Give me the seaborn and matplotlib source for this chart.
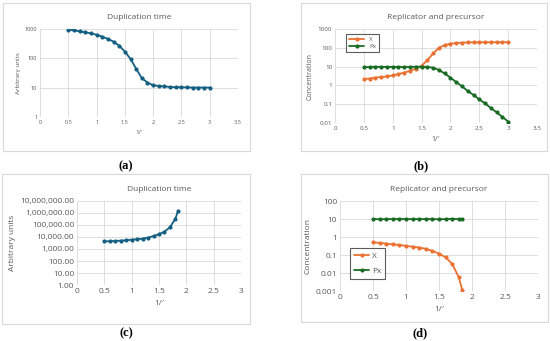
import numpy as np
import pandas as pd
import seaborn as sns
import matplotlib.pyplot as plt
from matplotlib.patches import Rectangle
from matplotlib.ticker import FixedLocator, FuncFormatter, NullLocator

# panel (a): duplication time
xa = [0.5, 0.6, 0.7, 0.8, 0.9, 1.0, 1.1, 1.2, 1.3, 1.4, 1.5, 1.6, 1.7,
      1.8, 1.9, 2.0, 2.1, 2.2, 2.3, 2.4, 2.5, 2.6, 2.7, 2.8, 2.9, 3.0]
ya = [950, 900, 830, 770, 710, 640, 550, 460, 370, 270, 170, 95, 44,
      21, 15, 12, 11.5, 11, 10.6, 10.4, 10.3, 10.2, 10.1, 10.1, 10.1, 10.1]

# panel (b): replicator and precursor
xb = xa
xb_X = [2.2, 2.3, 2.6, 2.8, 3.0, 3.4, 4.0, 4.8, 6.0, 7.7, 11, 22, 50,
        100, 140, 165, 180, 188, 192, 195, 196, 197, 197, 198, 198, 199]
xb_Px = [9.1, 9.6, 9.7, 9.7, 9.6, 9.7, 9.5, 9.6, 9.7, 9.8, 9.8, 9.6, 8.8,
         6.6, 4.3, 2.6, 1.5, 0.9, 0.5, 0.31, 0.18, 0.11, 0.063, 0.037, 0.021, 0.012]

# panel (c): duplication time
xc = [0.5, 0.6, 0.7, 0.8, 0.9, 1.0, 1.1, 1.2, 1.3, 1.4, 1.5, 1.6, 1.7, 1.8, 1.85]
yc = [4400, 4400, 4700, 5000, 5300, 6000, 6400, 7300, 8900, 12000,
      17000, 28000, 64000, 340000, 1550000]

# panel (d): replicator and precursor
xd = xc
xd_X = [0.5, 0.47, 0.43, 0.39, 0.36, 0.32, 0.29, 0.26, 0.22, 0.17,
        0.12, 0.074, 0.032, 0.0057, 0.0012]
xd_Px = [10.2, 9.6, 9.9, 9.9, 10.1, 9.9, 9.9, 9.9, 9.9, 9.9,
         9.7, 9.9, 10.1, 9.9, 9.9]

BLUE = "#156082"
ORANGE = "#E97132"
GREEN = "#196B24"
GRAY = "#595959"
GRID = "#D9D9D9"

sns.set_theme(style="white")
plt.rcParams["font.family"] = ["Open Sans", "DejaVu Sans"]

W, H = 550, 341
fig = plt.figure(figsize=(5.5, 3.41), dpi=100)


def box(x0, y0, x1, y1):
    fig.patches.append(Rectangle((x0 / W, 1 - y1 / H), (x1 - x0) / W, (y1 - y0) / H,
                                 transform=fig.transFigure, fill=False,
                                 edgecolor="#D9D9D9", linewidth=0.8))


def axes(x0, y0, x1, y1):
    return fig.add_axes([x0 / W, 1 - y1 / H, (x1 - x0) / W, (y1 - y0) / H])


def style(ax, title, ylabel, xmax, ylim, decades, tsize, lsize, fmt=None):
    ax.set_yscale("log")
    ax.set_xlim(0, xmax)
    ax.set_ylim(*ylim)
    ax.set_xticks(np.arange(0, xmax + 0.01, 0.5))
    ax.set_xticklabels([f"{v:g}" for v in np.arange(0, xmax + 0.01, 0.5)])
    ax.yaxis.set_major_locator(FixedLocator(decades))
    ax.yaxis.set_minor_locator(NullLocator())
    if fmt is None:
        ax.yaxis.set_major_formatter(FuncFormatter(lambda v, p: f"{v:g}"))
    else:
        ax.yaxis.set_major_formatter(FuncFormatter(fmt))
    ax.grid(True, color=GRID, linewidth=0.6)
    for s in ax.spines.values():
        s.set_visible(False)
    ax.tick_params(length=0, labelsize=tsize, colors=GRAY, pad=2)
    ax.set_title(title, fontsize=6, color=GRAY, pad=7)
    ax.set_xlabel("1/\u2032", fontsize=lsize, color=GRAY, labelpad=4)
    ax.set_ylabel(ylabel, fontsize=lsize, color=GRAY, labelpad=3)


mk = dict(marker="o", markersize=3, markeredgewidth=0, linewidth=1.3)

# (a)
box(3, 3, 250, 151)
ax = axes(40, 29, 238, 117)
sns.lineplot(x=xa, y=ya, ax=ax, color=BLUE, **mk)
style(ax, "Duplication time", "Arbitrary units", 3.5, (1, 1000),
      [1, 10, 100, 1000], 4, 4.5)

# (b)
box(301, 3, 547, 151)
ax = axes(335, 29, 537, 123)
dfb = pd.DataFrame({"x": xb * 2, "y": xb_X + xb_Px,
                    "s": ["X"] * len(xb) + ["Px"] * len(xb)})
sns.lineplot(data=dfb, x="x", y="y", hue="s", ax=ax,
             palette=[ORANGE, GREEN], **mk)
style(ax, "Replicator and precursor", "Concentration", 3.5, (0.01, 1000),
      [0.01, 0.1, 1, 10, 100, 1000], 4.5, 5)
leg = ax.legend(title=None, loc="upper left", bbox_to_anchor=(0.04, 0.98),
                fontsize=4.5, frameon=True, fancybox=False, handlelength=2.5,
                borderpad=0.4, labelspacing=0.3)
leg.get_frame().set_edgecolor("#333333")
leg.get_frame().set_linewidth(0.8)
for t in leg.get_texts():
    t.set_color(GRAY)

# (c)
box(2, 174, 250, 324)
ax = axes(77, 201, 241, 285)
sns.lineplot(x=xc, y=yc, ax=ax, color=BLUE, **mk)
style(ax, "Duplication time", "Arbitrary units", 3, (1, 1e7),
      [10.0 ** k for k in range(8)], 6, 6, fmt=lambda v, p: f"{v:,.2f}")

# (d)
box(301, 174, 548, 322)
ax = axes(340, 201, 538, 291)
dfd = pd.DataFrame({"x": xd * 2, "y": xd_X + xd_Px,
                    "s": ["X"] * len(xd) + ["Px"] * len(xd)})
sns.lineplot(data=dfd, x="x", y="y", hue="s", ax=ax,
             palette=[ORANGE, GREEN], **mk)
style(ax, "Replicator and precursor", "Concentration", 3, (0.001, 100),
      [0.001, 0.01, 0.1, 1, 10, 100], 6, 6)
leg = ax.legend(title=None, loc="lower left", bbox_to_anchor=(0.03, 0.09),
                fontsize=6, frameon=True, fancybox=False, handlelength=1.8,
                borderpad=0.5, labelspacing=0.8, handletextpad=0.3)
leg.get_frame().set_edgecolor("#333333")
leg.get_frame().set_linewidth(0.8)
for t in leg.get_texts():
    t.set_color(GRAY)

# panel letters
for lab, x, y in [("a", 126, 166), ("b", 421, 166), ("c", 126, 333), ("d", 420, 333)]:
    fig.text(x / W, 1 - y / H, f"({lab})", ha="center", va="center",
             fontsize=9, family=["Liberation Serif", "DejaVu Serif"],
             fontweight="bold", color="black")

fig.savefig("out.png", dpi=100)
